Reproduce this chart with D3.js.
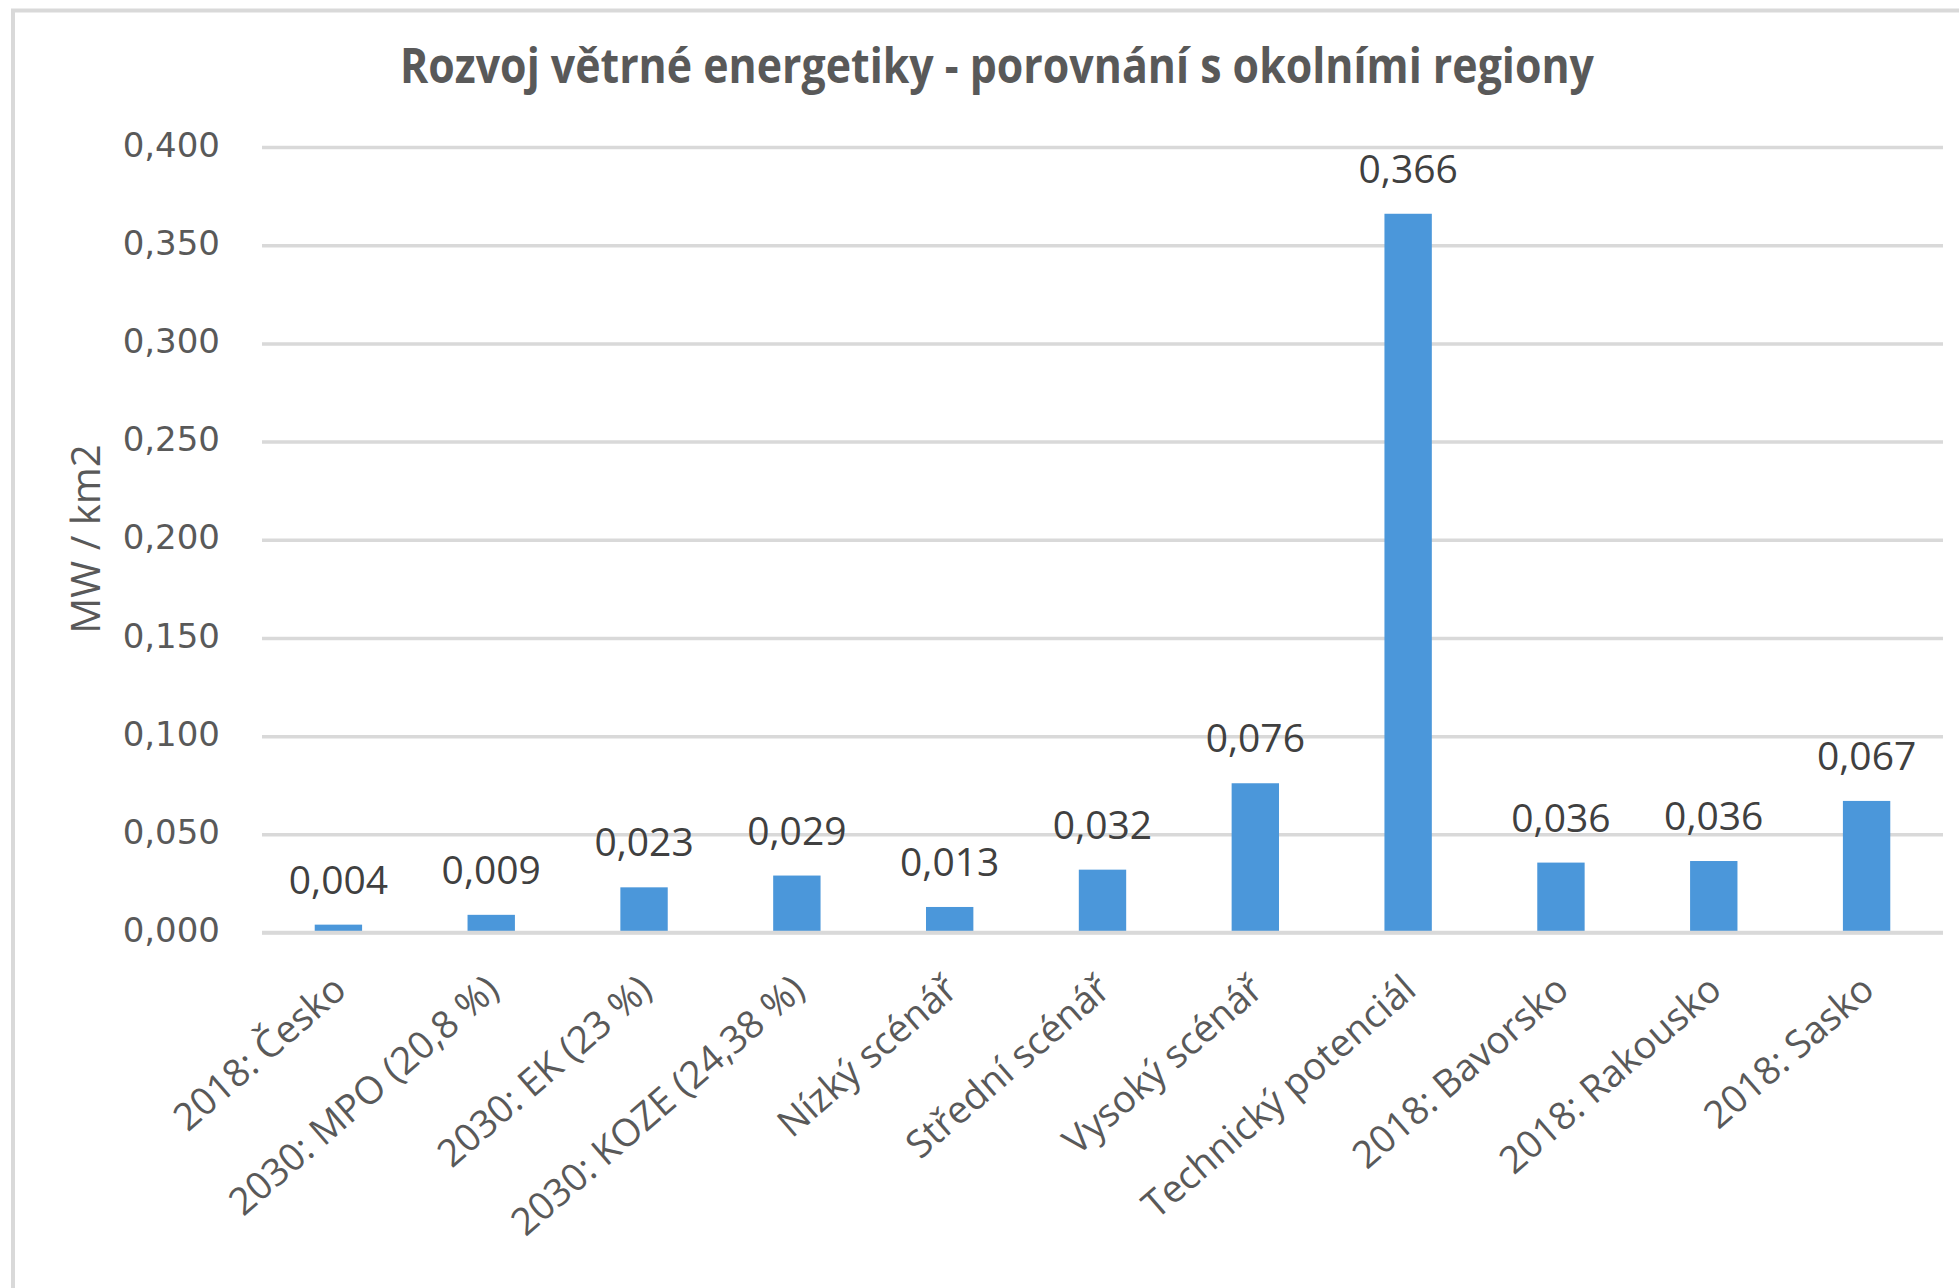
<!DOCTYPE html>
<html>
<head>
<meta charset="utf-8">
<script src="https://cdn.jsdelivr.net/npm/d3@7"></script>
<style>
  body { margin: 0; background: #fff; }
</style>
</head>
<body>
<script>
// Datos del gráfico
const categorias = [
  "2018: Česko",
  "2030: MPO (20,8 %)",
  "2030: EK (23 %)",
  "2030: KOZE (24,38 %)",
  "Nízký scénář",
  "Střední scénář",
  "Vysoký scénář",
  "Technický potenciál",
  "2018: Bavorsko",
  "2018: Rakousko",
  "2018: Sasko"
];
const valores = [0.004, 0.009, 0.023, 0.029, 0.013, 0.032, 0.076, 0.366, 0.0356, 0.0364, 0.067];
const ticksY = [0, 0.05, 0.1, 0.15, 0.2, 0.25, 0.3, 0.35, 0.4];

const titulo = "Rozvoj větrné energetiky - porovnání s okolními regiony";
const tituloY = "MW / km2";

const ancho = 1959;
const alto = 1288;
const gris = "#d9d9d9";
const texto = "#595959";
const azul = "#4b97da";

// Formato checo: coma decimal
const cz = d3.formatLocale({ decimal: ",", thousands: " ", grouping: [3], currency: ["", " Kč"] });
const fmt = cz.format(".3f");

const svg = d3.select("body").append("svg")
  .attr("width", ancho)
  .attr("height", alto);

svg.append("rect").attr("width", ancho).attr("height", alto).attr("fill", "#fff");

// Borde del gráfico (cortado a la derecha y abajo)
svg.append("rect")
  .attr("x", 13).attr("y", 10.5)
  .attr("width", 2100).attr("height", 1500)
  .attr("fill", "none")
  .attr("stroke", gris)
  .attr("stroke-width", 4);

// Escalas
const x = d3.scaleBand()
  .domain(categorias)
  .range([262, 1943])
  .paddingInner(0.69)
  .paddingOuter(0.345);

const y = d3.scaleLinear()
  .domain([0, 0.4])
  .range([932.5, 147]);

// Eje Y con líneas de grilla
const ejeY = svg.append("g")
  .attr("transform", "translate(262,0)")
  .call(d3.axisLeft(y)
    .tickValues(ticksY)
    .tickSize(-(1943 - 262))
    .tickPadding(42)
    .tickFormat(fmt));

ejeY.select(".domain").remove();
ejeY.selectAll(".tick line")
  .attr("stroke", gris)
  .attr("stroke-width", 3.5);
ejeY.selectAll(".tick text")
  .attr("fill", texto)
  .attr("dy", "0.27em")
  .style("font-family", "'DejaVu Sans', sans-serif")
  .style("font-size", "34px");

// Barras
svg.selectAll("rect.barra")
  .data(valores)
  .join("rect")
  .attr("class", "barra")
  .attr("x", (_, i) => x(categorias[i]))
  .attr("width", x.bandwidth())
  .attr("y", (d) => y(d))
  .attr("height", (d) => y(0) - y(d))
  .attr("fill", azul);

// Línea del eje X por encima de las barras
svg.append("line")
  .attr("x1", 262).attr("x2", 1943)
  .attr("y1", y(0)).attr("y2", y(0))
  .attr("stroke", gris)
  .attr("stroke-width", 3.5);

// Etiquetas de valores
svg.selectAll("text.valor")
  .data(valores)
  .join("text")
  .attr("class", "valor")
  .attr("x", (_, i) => x(categorias[i]) + x.bandwidth() / 2)
  .attr("y", (d) => y(d) - 31)
  .attr("text-anchor", "middle")
  .attr("fill", "#404040")
  .style("font-family", "'Open Sans', sans-serif")
  .style("font-size", "39px")
  .text((d) => fmt(d));

// Etiquetas de categorías, giradas
svg.selectAll("text.cat")
  .data(categorias)
  .join("text")
  .attr("class", "cat")
  .attr("transform", (d) => `translate(${x(d) + x.bandwidth() / 2 + 10},993) rotate(-41)`)
  .attr("text-anchor", "end")
  .attr("fill", texto)
  .style("font-family", "'Open Sans', sans-serif")
  .style("font-size", "38px")
  .text((d) => d);

// Título
svg.append("text")
  .attr("x", 400)
  .attr("y", 83)
  .attr("textLength", 1194)
  .attr("lengthAdjust", "spacingAndGlyphs")
  .attr("fill", texto)
  .style("font-family", "'Open Sans', sans-serif")
  .style("font-weight", "bold")
  .style("font-size", "48px")
  .text(titulo);

// Título del eje Y
svg.append("text")
  .attr("transform", "translate(100,539) rotate(-90)")
  .attr("text-anchor", "middle")
  .attr("fill", texto)
  .style("font-family", "'Open Sans', sans-serif")
  .style("font-size", "40px")
  .text(tituloY);
</script>
</body>
</html>
